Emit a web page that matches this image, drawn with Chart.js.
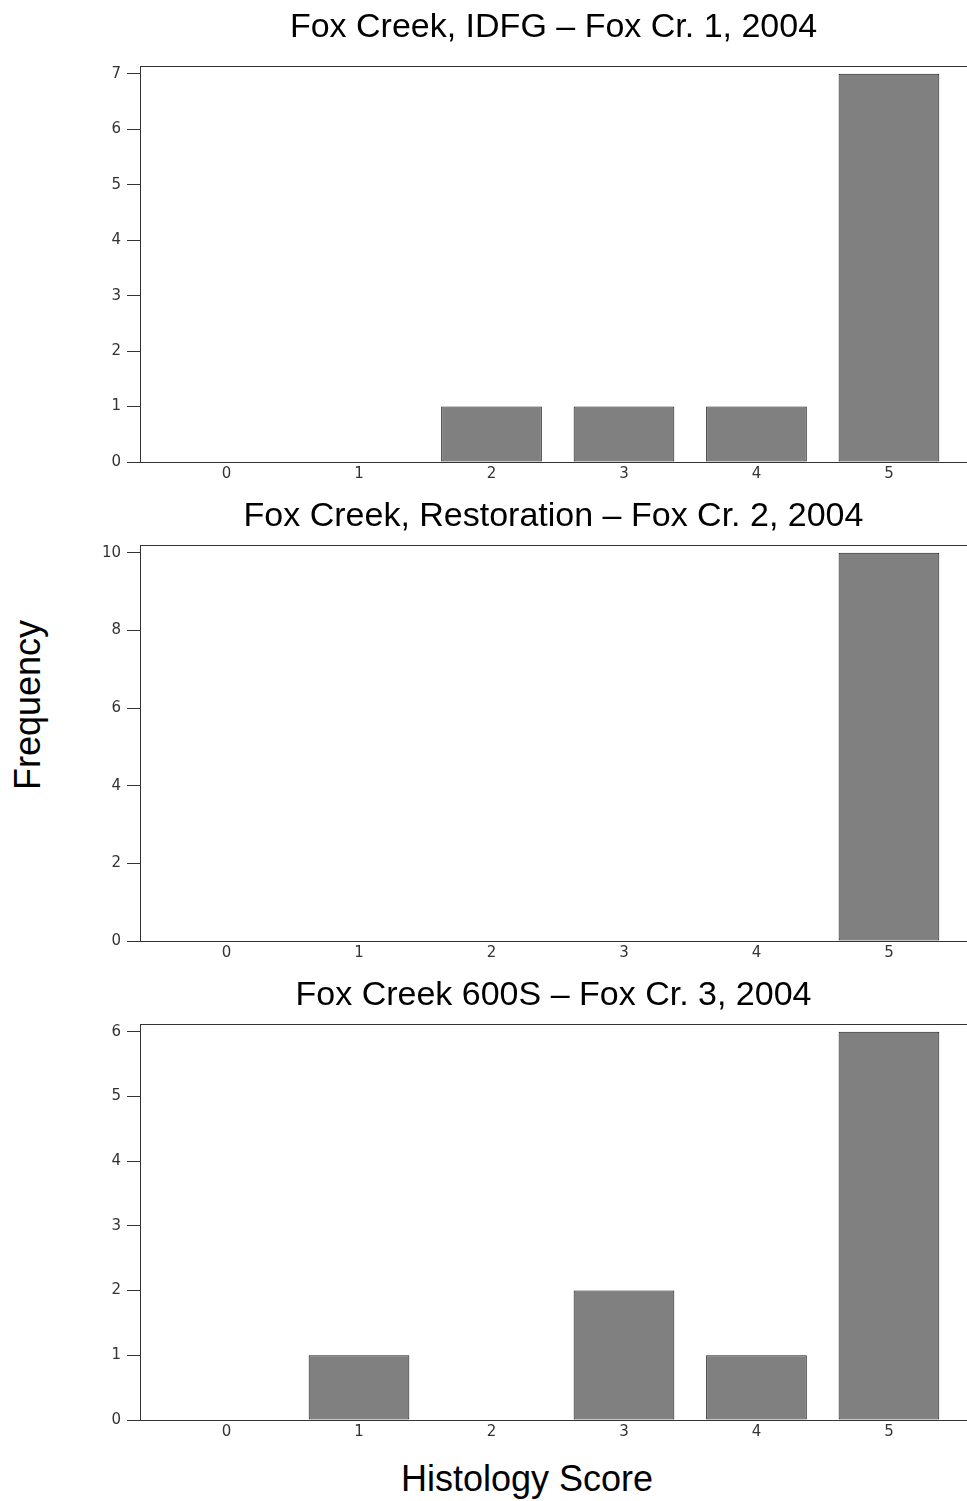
<!DOCTYPE html>
<html>
<head>
<meta charset="utf-8">
<script src="https://cdn.jsdelivr.net/npm/chart.js@4.4.1/dist/chart.umd.min.js"></script>
<style>
  body { margin: 0; background: #fff; }
  .wrap { position: relative; width: 967px; height: 1501px; }
  .panel { position: absolute; left: 60px; width: 907px; }
  .ylab { position: absolute; left: 28px; top: 705px; font: 36px "Liberation Sans", Arial, sans-serif;
    transform: translate(-50%, -50%) rotate(-90deg); white-space: nowrap; color: #000; }
  .xlab { position: absolute; left: 527px; top: 1479px; font: 36px "Liberation Sans", Arial, sans-serif;
    transform: translate(-50%, -50%); white-space: nowrap; color: #000; }
</style>
</head>
<body>
<div class="wrap">
  <div class="panel" style="top:0;height:490px"><canvas id="c1"></canvas></div>
  <div class="panel" style="top:490px;height:480px"><canvas id="c2"></canvas></div>
  <div class="panel" style="top:970px;height:480px"><canvas id="c3"></canvas></div>
  <div class="ylab">Frequency</div>
  <div class="xlab">Histology Score</div>
</div>
<script>
'use strict'

// histology scores (x categories)
const scores = [0, 1, 2, 3, 4, 5];

// frequencies per site
const foxCr1 = [0, 0, 1, 1, 1, 7];
const foxCr2 = [0, 0, 0, 0, 0, 10];
const foxCr3 = [0, 1, 0, 2, 1, 6];

const titles = [
  'Fox Creek, IDFG \u2013 Fox Cr. 1, 2004',
  'Fox Creek, Restoration \u2013 Fox Cr. 2, 2004',
  'Fox Creek 600S \u2013 Fox Cr. 3, 2004'
];

const yMax = [7.14, 10.2, 6.12];
const yStep = [1, 2, 1];

const axisColor = '#333';
const tickFont = { family: '"DejaVu Sans", sans-serif', size: 15 };

let makePanel = (id, values, title, max, step, pad, xHeight) => {
  new Chart(document.getElementById(id), {
    type: 'bar',
    data: {
      datasets: [{
        data: scores.map((s, i) => ({ x: s, y: values[i] })),
        backgroundColor: '#808080',
        borderColor: '#1a1a1a',
        borderWidth: 1,
        borderSkipped: false,
        categoryPercentage: 1,
        barPercentage: 0.76
      }]
    },
    options: {
      responsive: true,
      maintainAspectRatio: false,
      animation: false,
      plugins: {
        legend: { display: false },
        tooltip: { enabled: false },
        title: {
          display: true,
          text: title,
          fullSize: false,
          color: '#000',
          font: { family: '"Liberation Sans", Arial, sans-serif', size: 34, weight: 'normal' },
          padding: { top: pad[0], bottom: pad[1] }
        }
      },
      scales: {
        x: {
          type: 'linear',
          min: -0.653,
          max: 5.589,
          offset: false,
          afterFit: (s) => { s.height = xHeight; },
          grid: { display: false, drawTicks: false },
          border: { display: true, color: axisColor, width: 1 },
          ticks: { stepSize: 1, includeBounds: false, color: axisColor, font: tickFont, padding: 3 }
        },
        x2: {
          type: 'linear',
          position: 'top',
          min: -0.653,
          max: 5.589,
          afterFit: (s) => { s.height = 0; },
          grid: { display: false, drawTicks: false },
          border: { display: true, color: axisColor, width: 1 },
          ticks: { display: false }
        },
        y: {
          min: 0,
          max: max,
          afterFit: (s) => { s.width = 80; },
          grid: { drawOnChartArea: false, drawTicks: true, tickLength: 13, color: axisColor },
          border: { display: true, color: axisColor, width: 1 },
          ticks: { stepSize: step, includeBounds: false, color: axisColor, font: tickFont, padding: 6 }
        }
      }
    }
  });
};

makePanel('c1', foxCr1, titles[0], yMax[0], yStep[0], [7, 18.2], 28);
makePanel('c2', foxCr2, titles[1], yMax[1], yStep[1], [6.6, 7.6], 29);
makePanel('c3', foxCr3, titles[2], yMax[2], yStep[2], [5.6, 7.6], 30);
</script>
</body>
</html>
